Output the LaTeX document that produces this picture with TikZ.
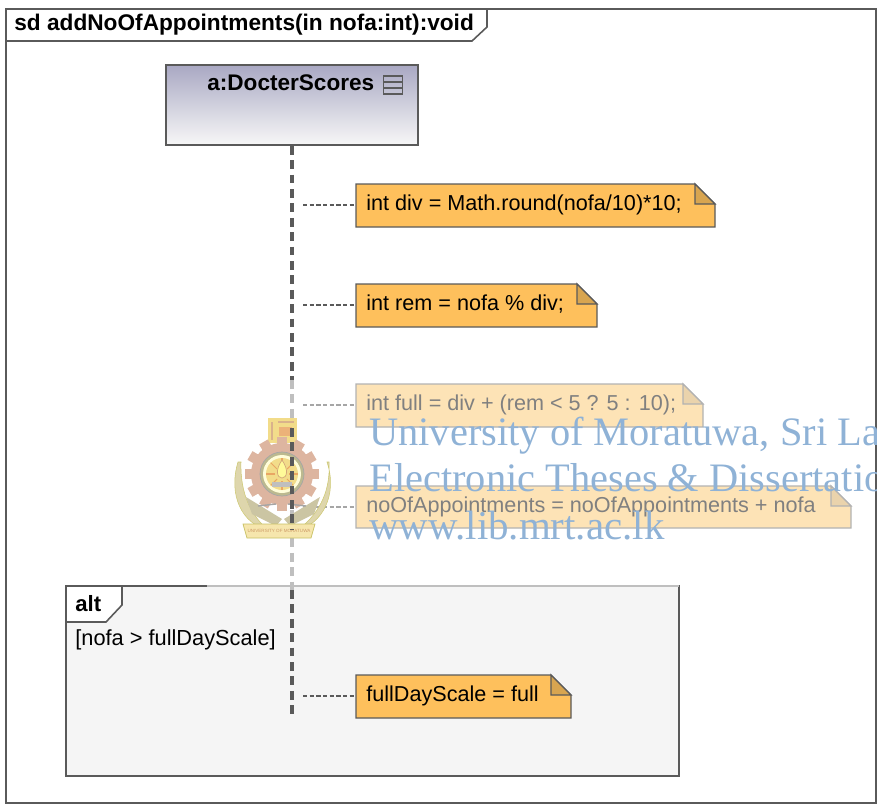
\documentclass[tikz,border=0pt]{standalone}
\usepackage{fontspec}
\setmainfont{Liberation Sans}
\newfontfamily\markfont{Liberation Serif}
\usepackage{xcolor}
\definecolor{notefill}{HTML}{FEC05C}
\definecolor{noteear}{HTML}{D8A550}
\definecolor{palefill}{HTML}{FDE3B6}
\definecolor{paleear}{HTML}{EAD3AC}
\definecolor{edge}{HTML}{5A5A5A}
\definecolor{markblue}{HTML}{8FB2D6}
\definecolor{gearred}{HTML}{DDB5A0}
\definecolor{wingtan}{HTML}{DED6AC}
\definecolor{sunyellow}{HTML}{F2DC8A}
\definecolor{objtop}{HTML}{A9A8C3}
\tikzset{
  notetext/.style={anchor=west,inner xsep=10*0.02cm,inner ysep=0pt,text height=8.5pt,text depth=2.5pt,font=\fontsize{12.3}{14}\selectfont},
  solidnote/.style={draw=edge,fill=notefill,line width=0.8pt},
  solidear/.style={draw=edge,fill=noteear,line width=0.8pt},
  palenote/.style={draw=gray!60,fill=palefill,line width=0.8pt},
  paleear/.style={draw=gray!60,fill=paleear,line width=0.8pt},
  link/.style={dash pattern=on 2.4pt off 1.4pt,line width=0.6pt,draw=edge},
  palelink/.style={link,draw=gray!70},
  lifeline/.style={line width=1.8pt,draw=edge,dash pattern=on 5pt off 3.2pt},
  palelife/.style={lifeline,draw=gray!50},
  watermark/.style={anchor=base west,inner sep=0pt,text=markblue,font=\markfont\fontsize{23}{23}\selectfont},
}
% x0,y0,x1,y1, then body style, ear style, node name, text colour, text
\newcommand{\umlnote}[9]{
  \draw[#5] (#1,#2) -- (#3-20,#2) -- (#3,#2+20) -- (#3,#4) -- (#1,#4) -- cycle;
  \draw[#6] (#3-20,#2) -- (#3-20,#2+20) -- (#3,#2+20) -- cycle;
  \node[notetext,text=#8] (#7) at (#1,#2+21) {#9};
}
\begin{document}
\begin{tikzpicture}[x=0.02cm,y=-0.02cm]
  \useasboundingbox (0,0) rectangle (877,805);
  % outer frame
  \draw[edge,line width=0.9pt] (6,9) rectangle (876,803);
  \draw[edge,line width=0.9pt,fill=white] (6,9) -- (487,9) -- (487,27) -- (472,41) -- (6,41) -- cycle;
  \node[anchor=west,inner sep=0pt,font=\bfseries\fontsize{12.9}{14}\selectfont] (title) at (14,25) {sd addNoOfAppointments(in nofa:int):void};
  % alt fragment
  \draw[edge,line width=0.9pt,fill=black!4] (66,586) rectangle (679,776);
  \draw[gray!50,line width=0.9pt] (207,586) -- (679,586);
  \draw[edge,line width=0.9pt,fill=white] (66,586) -- (122,586) -- (122,605) -- (106,622) -- (66,622) -- cycle;
  \node[anchor=west,inner sep=0pt,font=\bfseries\fontsize{12.6}{14}\selectfont] (alt) at (75,604) {alt};
  \node[anchor=west,inner sep=0pt,font=\fontsize{12.4}{14}\selectfont] (guard) at (75,640) {[nofa > fullDayScale]};
  % lifeline
  \node[draw=edge,line width=0.9pt,top color=objtop,bottom color=black!3,minimum width=252*0.02cm,minimum height=80*0.02cm,inner sep=0pt] (obj) at (292,105) {};
  \node[anchor=west,inner sep=0pt,font=\bfseries\fontsize{12.85}{14}\selectfont] (objname) at (207,83) {a:DocterScores};
  \node[draw=edge,line width=0.8pt,minimum width=19*0.02cm,minimum height=18*0.02cm,inner sep=0pt,
    path picture={\draw[edge,line width=0.7pt] (path picture bounding box.west)++(0,3*0.02cm) -- ++(19*0.02cm,0);
      \draw[edge,line width=0.7pt] (path picture bounding box.west)++(0,-3*0.02cm) -- ++(19*0.02cm,0);}] (objicon) at (393,85) {};
  \coordinate (lifeA) at (292,380);
  \coordinate (lifeB) at (292,590);
  \coordinate (lifeend) at (292,715);
  \draw[lifeline] (obj.south) -- (lifeA);
  \draw[palelife] (lifeA) -- (lifeB);
  \draw[lifeline] (lifeB) -- (lifeend);
  % notes
  \umlnote{356}{184}{715}{227}{solidnote}{solidear}{div}{black}{int div = Math.round(nofa/10)*10;}
  \umlnote{356}{284}{597}{327}{solidnote}{solidear}{rem}{black}{int rem = nofa \% div;}
  \umlnote{356}{384}{703}{427}{palenote}{paleear}{full}{gray}{int full = div + (rem < 5 ? 5 : 10);}
  \umlnote{356}{486}{851}{528}{palenote}{paleear}{appts}{gray}{noOfAppointments = noOfAppointments + nofa}
  \umlnote{356}{675}{571}{718}{solidnote}{solidear}{scale}{black}{fullDayScale = full}
  \path (div.west) ++(-53,0) coordinate (ldiv);
  \path (rem.west) ++(-53,0) coordinate (lrem);
  \path (full.west) ++(-53,0) coordinate (lfull);
  \path (appts.west) ++(-53,0) coordinate (lappts);
  \path (scale.west) ++(-53,0) coordinate (lscale);
  \draw[link] (ldiv) -- (div.west);
  \draw[link] (lrem) -- (rem.west);
  \draw[palelink] (lfull) -- (full.west);
  \draw[palelink] (lappts) -- (appts.west);
  \draw[link] (lscale) -- (scale.west);
  % crest
  \fill[sunyellow] (268,418) rectangle (297,443);
  \draw[brown!60,line width=0.8pt] (272,422) -- (272,440);
  \draw[brown!60,line width=0.8pt] (278,422) -- (294,422);
  \fill[orange!50!brown!60] (279,427) rectangle (292,436);
  \draw[fill=wingtan,draw=olive!45,line width=0.3pt] (238,462) .. controls (228,495) and (242,524) .. (268,530) .. controls (252,516) and (240,495) .. (241,462) -- cycle;
  \draw[fill=wingtan,draw=olive!45,line width=0.3pt] (327,462) .. controls (338,495) and (322,524) .. (298,530) .. controls (316,516) and (331,495) .. (329,462) -- cycle;
  \fill[wingtan!80!gray] (246,497) -- (282,519) -- (276,526) -- (252,514) -- cycle;
  \fill[wingtan!80!gray] (320,497) -- (284,519) -- (290,526) -- (314,514) -- cycle;
  \foreach \a in {0,30,...,330}
    \fill[gearred,rotate around={\a:(282,474)}] (277,437) rectangle (287,445);
  \fill[gearred] (282,474) circle (31);
  \draw[fill=gray!60!olive!60,draw=gray!70] (282,474) circle (22);
  \fill[white!85!yellow] (282,474) circle (19);
  \fill[sunyellow] (282,474) circle (16);
  \foreach \a in {0,45,...,315}
    \draw[orange!50!brown!70,line width=0.6pt] (282,474) ++(\a:7) -- ++(\a:9);
  \draw[fill=yellow!40,draw=brown!70,line width=0.4pt] (282,460) .. controls (275,470) and (277,478) .. (282,478) .. controls (287,478) and (289,470) .. (282,460);
  \fill[gray!50] (272,482) rectangle (292,487);
  \draw[gray!70,line width=0.8pt] (258,506) -- (276,504);
  \draw[gray!70,line width=0.8pt] (288,504) -- (306,506);
  \draw[fill=sunyellow!70,draw=olive!50,line width=0.4pt] (243,524) -- (315,524) -- (311,538) -- (247,538) -- cycle;
  \node[inner sep=0pt,text=brown!80,font=\fontsize{2.6}{3}\selectfont] (crestname) at (279,531) {UNIVERSITY OF MORATUWA};
  \coordinate (crestA) at (292,428);
  \coordinate (crestB) at (292,530);
  \draw[lifeline] (crestA) -- (crestB);
  % repository mark
  \begin{scope}
    \clip (0,0) rectangle (877,805);
    \node[watermark] (markA) at (369,445) {University of Moratuwa, Sri La};
    \node[watermark] (markB) at (369,491) {Electronic Theses \& Dissertatio};
    \node[watermark,font=\markfont\fontsize{23.3}{23}\selectfont] (markC) at (369,539) {www.lib.mrt.ac.lk};
  \end{scope}
\end{tikzpicture}
\end{document}
